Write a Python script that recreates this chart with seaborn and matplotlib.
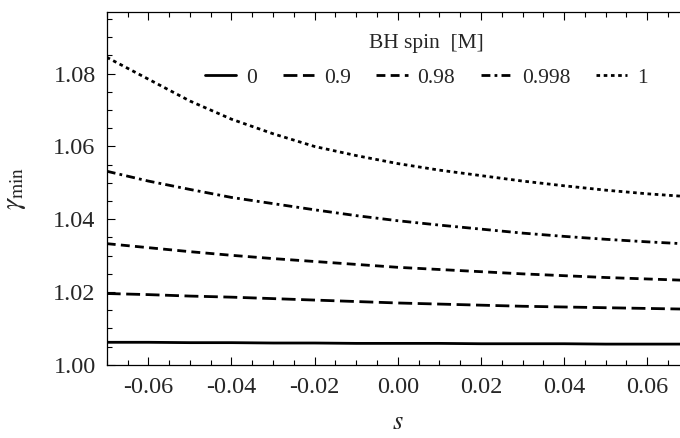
import numpy as np
import pandas as pd
import seaborn as sns
import matplotlib
matplotlib.use("Agg")
import matplotlib.pyplot as plt
from matplotlib.ticker import MultipleLocator, FormatStrFormatter

s_vals = [-0.07, -0.06, -0.05, -0.04, -0.03, -0.02, -0.01, 0.0,
          0.01, 0.02, 0.03, 0.04, 0.05, 0.06, 0.07]
spin_labels = ["0", "0.9", "0.98", "0.998", "1"]
g_0 = [1.0062, 1.0062, 1.0061, 1.0061, 1.0060, 1.0060, 1.0059, 1.0059,
       1.0059, 1.0058, 1.0058, 1.0058, 1.0057, 1.0057, 1.0057]
g_09 = [1.0196, 1.0193, 1.0189, 1.0186, 1.0182, 1.0178, 1.0174, 1.0170,
        1.0167, 1.0164, 1.0161, 1.0159, 1.0157, 1.0155, 1.0153]
g_098 = [1.0333, 1.0322, 1.0311, 1.0301, 1.0292, 1.0284, 1.0276, 1.0268,
         1.0262, 1.0256, 1.0250, 1.0245, 1.0240, 1.0236, 1.0232]
g_0998 = [1.0532, 1.0505, 1.0482, 1.0460, 1.0443, 1.0426, 1.0410, 1.0396,
          1.0384, 1.0373, 1.0362, 1.0353, 1.0345, 1.0338, 1.0332]
g_1 = [1.0845, 1.0785, 1.0725, 1.0675, 1.0635, 1.0600, 1.0575, 1.0553,
       1.0535, 1.0520, 1.0505, 1.0492, 1.0480, 1.0470, 1.0462]
all_series = [g_0, g_09, g_098, g_0998, g_1]

rows = []
for lab, ser in zip(spin_labels, all_series):
    for s, g in zip(s_vals, ser):
        rows.append({"s": s, "gamma": g, "spin": lab})
df = pd.DataFrame(rows)

sns.set_theme(style="ticks")
plt.rcParams["font.family"] = ["Liberation Serif", "DejaVu Serif"]
plt.rcParams["mathtext.fontset"] = "stix"

fig = plt.figure(figsize=(6.8, 4.38), dpi=100)
ax = fig.add_axes([0.157, 0.167, 0.856, 0.806])

dash_map = {"0": "", "0.9": (5, 2), "0.98": (3.2, 1.9),
            "0.998": (3.2, 1.5, 1.0, 1.5), "1": (1.3, 1.3)}
sns.lineplot(data=df, x="s", y="gamma", style="spin", style_order=spin_labels,
             dashes=dash_map, color="black", linewidth=2.0, ax=ax, legend=True)

ax.set_xlim(-0.07, 0.07)
ax.set_ylim(1.0, 1.097)
ax.xaxis.set_major_locator(MultipleLocator(0.02))
ax.xaxis.set_minor_locator(MultipleLocator(0.005))
ax.yaxis.set_major_locator(MultipleLocator(0.02))
ax.yaxis.set_minor_locator(MultipleLocator(0.005))
ax.xaxis.set_major_formatter(FormatStrFormatter("%.2f"))
ax.yaxis.set_major_formatter(FormatStrFormatter("%.2f"))
ax.tick_params(which="both", direction="in", top=True, right=True,
               labelsize=17.5, color="black", width=0.8)
ax.tick_params(which="major", length=6)
ax.tick_params(which="minor", length=3.5)
ax.tick_params(axis="y", which="major", pad=8)
ax.tick_params(axis="x", which="major", pad=9)
for sp in ax.spines.values():
    sp.set_linewidth(0.9)
    sp.set_color("black")
ax.set_xlabel("$s$", fontsize=19, labelpad=10)
ax.set_ylabel(r"$\gamma_{\mathrm{min}}$", fontsize=20, labelpad=18)

handles, labels = ax.get_legend_handles_labels()
ax.legend(handles, labels, title="BH spin  [M]", loc="upper center",
          bbox_to_anchor=(0.627, 0.943), bbox_transform=fig.transFigure,
          ncol=5, frameon=False, fontsize=15.5, title_fontsize=15.5,
          handlelength=1.45, handletextpad=0.45, columnspacing=1.2,
          borderaxespad=0, labelspacing=0.3)
ax.get_legend()._legend_box.sep = 11

fig.savefig("out.png", dpi=100)
